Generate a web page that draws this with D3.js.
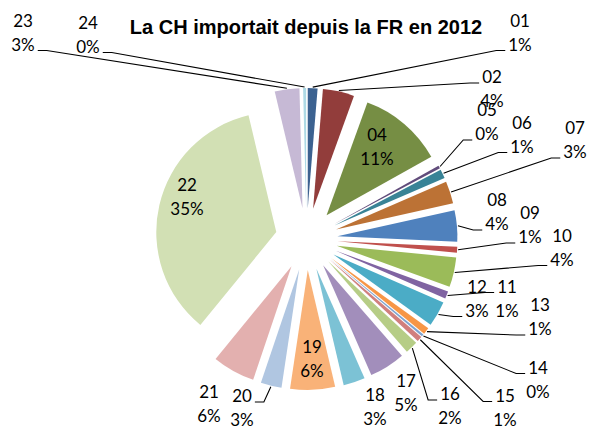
<!DOCTYPE html>
<html>
<head>
<meta charset="utf-8">
<script src="https://cdn.jsdelivr.net/npm/d3@7"></script>
<style>
  body { margin: 0; background: #fff; }
  svg { display: block; }
</style>
</head>
<body>
<svg id="chart"></svg>
<script>
// Chapters (categories) and their share of imports
const categories = ["01", "02", "04", "05", "06", "07", "08", "09", "10", "11", "12",
  "13", "14", "15", "16", "17", "18", "19", "20", "21", "22", "23", "24"];
const values = [1.3, 4.2, 11.3, 0.4, 1.2, 3.0, 4.2, 0.8, 4.0, 1.0, 3.4,
  0.9, 0.3, 0.7, 1.7, 4.8, 2.9, 6.0, 2.8, 5.7, 35.2, 3.3, 0.4];

const title = "La CH importait depuis la FR en 2012";

// Label layout: block centre [x, y], leader ("l" = line on left side, "r" = right side, null = none),
// and which text row the leader meets (1 = first row, 2 = second row)
const labelLayout = [
  [520, 33, "l", 2], [492, 89.5, "l", 1], [377, 147, null, 0], [487, 122.5, "l", 2],
  [522, 135, "l", 2], [575, 140.5, "l", 2], [497, 212.5, "l", 2], [530, 225.5, "l", 2],
  [562, 248, "l", 2], [507, 299, "l", 1], [477, 299, "l", 2], [540, 317.5, "l", 2],
  [538, 380, "l", 1], [505, 408, "l", 1], [450, 406.5, "l", 1], [406, 393.5, null, 0],
  [375, 407.5, null, 0], [312, 359.5, null, 0], [242, 408.5, "r", 1], [209, 404, null, 0],
  [187, 197, null, 0], [23, 33, "r", 2], [88, 35, "r", 2]
];

const width = 591;
const height = 429;

const svg = d3.select("#chart")
  .attr("width", width)
  .attr("height", height);

svg.append("rect").attr("width", width).attr("height", height).attr("fill", "#fff");

// Office 2007 accents; Excel darkens the first six points and lightens the later ones
const accents = ["#4F81BD", "#C0504D", "#9BBB59", "#8064A2", "#4BACC6", "#F79646"];
function pointColor(i) {
  const base = d3.rgb(accents[i % 6]);
  const group = Math.floor(i / 6);
  if (group === 0) return d3.rgb(base.r * 0.76, base.g * 0.76, base.b * 0.76).formatHex();
  const t = [0, 0, 0.27, 0.55][group];
  return d3.rgb(base.r + (255 - base.r) * t, base.g + (255 - base.g) * t, base.b + (255 - base.b) * t).formatHex();
}

// Pie geometry
const cx = 306.5, cy = 239;
const radius = 120;
const explode = 31;

const pie = d3.pie().sort(null).value(d => d.value);
const data = categories.map((c, i) => ({ cat: c, value: values[i], idx: i }));
const arcs = pie(data);
const total = d3.sum(values);

const arc = d3.arc().innerRadius(0).outerRadius(radius);

function unit(a) { return [Math.sin(a), -Math.cos(a)]; }

const g = svg.append("g").attr("transform", `translate(${cx},${cy})`);

g.selectAll("path.slice")
  .data(arcs)
  .join("path")
  .attr("class", "slice")
  .attr("transform", d => {
    const u = unit((d.startAngle + d.endAngle) / 2);
    return `translate(${u[0] * explode},${u[1] * explode})`;
  })
  .attr("d", arc)
  .attr("fill", d => pointColor(d.data.idx));

// Labels
const labels = svg.append("g")
  .style("font-family", "Lato, 'Open Sans', sans-serif")
  .style("font-size", "17px")
  .attr("fill", "#000");

const leaders = svg.append("g")
  .attr("fill", "none")
  .attr("stroke", "#000")
  .attr("stroke-width", 1.1);

arcs.forEach((d, i) => {
  const [lx, ly, side, row] = labelLayout[i];
  const pct = Math.round(d.data.value / total * 100) + "%";
  const rows = [d.data.cat, pct];
  const texts = rows.map((txt, k) => labels.append("text")
    .attr("x", lx)
    .attr("y", ly + (k === 0 ? -12 : 12))
    .attr("dy", "0.35em")
    .attr("text-anchor", "middle")
    .text(txt));

  if (!side) return;
  const t = texts[row - 1].node();
  const w = t.getComputedTextLength();
  const ay = ly + (row === 1 ? -6.5 : 17.5);
  const ax = side === "l" ? lx - w / 2 - 3 : lx + w / 2 + 3;
  const ex = side === "l" ? ax - 9 : ax + 9;
  const mid = (d.startAngle + d.endAngle) / 2;
  const u = unit(mid);
  const px = cx + u[0] * (explode + radius + 1);
  const py = cy + u[1] * (explode + radius + 1);
  leaders.append("path")
    .attr("d", d3.line()([[px, py], [ex, ay], [ax, ay]]));
});

// Title
svg.append("text")
  .attr("x", 306)
  .attr("y", 34)
  .attr("text-anchor", "middle")
  .style("font-family", "'Liberation Sans', Arial, sans-serif")
  .style("font-weight", "bold")
  .style("font-size", "20px")
  .text(title);
</script>
</body>
</html>
